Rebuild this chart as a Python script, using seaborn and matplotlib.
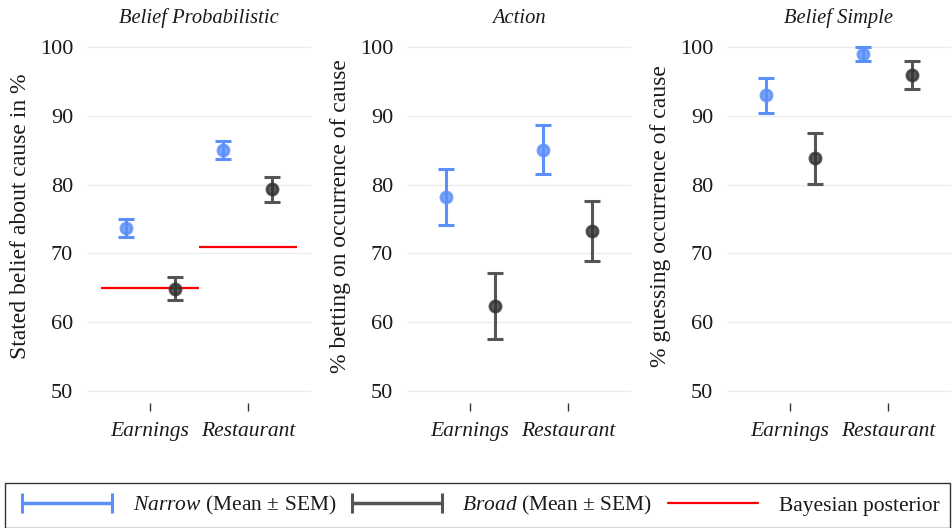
import numpy as np
import pandas as pd
import matplotlib
matplotlib.use("Agg")
import matplotlib.pyplot as plt
import seaborn as sns
from matplotlib.lines import Line2D

# ---------------- data ----------------
panels = ["Belief Probabilistic", "Action", "Belief Simple"]
ylabels = ["Stated belief about cause in %",
           "% betting on occurrence of cause",
           "% guessing occurrence of cause"]
categories = ["Earnings", "Restaurant"]
groups = ["Narrow", "Broad"]
narrow_mean = [[73.7, 85.0], [78.2, 85.1], [93.0, 99.0]]
narrow_sem = [[1.3, 1.35], [4.1, 3.6], [2.55, 1.0]]
broad_mean = [[64.9, 79.3], [62.4, 73.3], [83.8, 95.9]]
broad_sem = [[1.7, 1.8], [4.8, 4.35], [3.7, 2.0]]
posterior = [65, 71]
yticks = [50, 60, 70, 80, 90, 100]

# ---------------- style ----------------
sns.set_theme(style="whitegrid")
plt.rcParams['font.family'] = ['Liberation Serif', 'DejaVu Serif']
plt.rcParams['mathtext.fontset'] = 'custom'
plt.rcParams['mathtext.rm'] = 'Liberation Serif'
plt.rcParams['mathtext.it'] = 'Liberation Serif:italic'
plt.rcParams['grid.color'] = '#ececec'
plt.rcParams['grid.linewidth'] = 1.0

blue = '#5b8ff9'
gray_line = '#555555'
gray_mark = '#333333'
text_col = '#1a1a1a'
line_colors = {"Narrow": blue, "Broad": gray_line}
mark_colors = {"Narrow": blue, "Broad": gray_mark}

fig = plt.figure(figsize=(9.52, 5.28), dpi=100)
lefts = [87 / 952, 407 / 952, 727 / 952]
W = 224 / 952
bottom = 1 - 403 / 528
top = 1 - 30 / 528

for p in range(3):
    ax = fig.add_axes([lefts[p], bottom, W, top - bottom])
    rows = []
    for c, cat in enumerate(categories):
        rows.append({"category": cat, "group": "Narrow", "value": narrow_mean[p][c]})
        rows.append({"category": cat, "group": "Broad", "value": broad_mean[p][c]})
    df = pd.DataFrame(rows)

    # error bars (mean +- SEM)
    for gi, (g, means, sems) in enumerate([("Narrow", narrow_mean[p], narrow_sem[p]),
                                           ("Broad", broad_mean[p], broad_sem[p])]):
        x = np.arange(len(categories)) - 0.25 + 0.5 * gi
        ax.errorbar(x, means, yerr=sems, fmt='none', ecolor=line_colors[g],
                    elinewidth=2.2, capsize=6, capthick=2.2, zorder=3)

    if p == 0:
        for c, val in enumerate(posterior):
            ax.hlines(val, c - 0.5, c + 0.5, color='red', linewidth=1.6, zorder=2)

    sns.pointplot(data=df, x="category", y="value", hue="group",
                  order=categories, hue_order=groups, palette=mark_colors,
                  dodge=0.5, linestyle='none', errorbar=None, markers='o',
                  markersize=8, alpha=0.8, ax=ax, legend=False, zorder=4)

    ax.set_xlim(-0.643, 1.643)
    ax.set_ylim(48.26, 102.47)
    ax.set_yticks(yticks)
    ax.xaxis.grid(False)
    ax.yaxis.grid(True)
    sns.despine(ax=ax, left=True, bottom=True)
    ax.tick_params(axis='y', left=False, length=0, labelsize=16, pad=10,
                   colors=text_col)
    ax.tick_params(axis='x', bottom=True, length=6, width=1, color='#333333',
                   labelsize=15.5, pad=8, labelcolor=text_col)
    for lbl in ax.get_xticklabels():
        lbl.set_fontstyle('italic')
    ax.set_xlabel("")
    ax.set_ylabel(ylabels[p], fontsize=17, color=text_col, labelpad=6)
    ax.set_title(panels[p], fontsize=14.8, style='italic', pad=5, color=text_col)

handles = [
    Line2D([0], [0], color=blue, linewidth=2.5, marker='|', markersize=14, markeredgewidth=2.2),
    Line2D([0], [0], color=gray_line, linewidth=2.5, marker='|', markersize=14, markeredgewidth=2.2),
    Line2D([0], [0], color='red', linewidth=1.6),
]
labels = [r"$\mathit{Narrow}$ (Mean ± SEM)",
          r"$\mathit{Broad}$ (Mean ± SEM)",
          "Bayesian posterior"]
leg = fig.legend(handles, labels, loc='lower left',
                 bbox_to_anchor=(0.005, 0.0, 0.993, 0.083), mode='expand', ncol=3,
                 frameon=True, fancybox=False, edgecolor='black', numpoints=2,
                 handlelength=4.8, fontsize=15.5, borderaxespad=0, borderpad=0.5,
                 handletextpad=0.65, columnspacing=1.5)
leg.get_frame().set_linewidth(1.0)
for t in leg.get_texts():
    t.set_color(text_col)

fig.savefig("out.png", dpi=100)
